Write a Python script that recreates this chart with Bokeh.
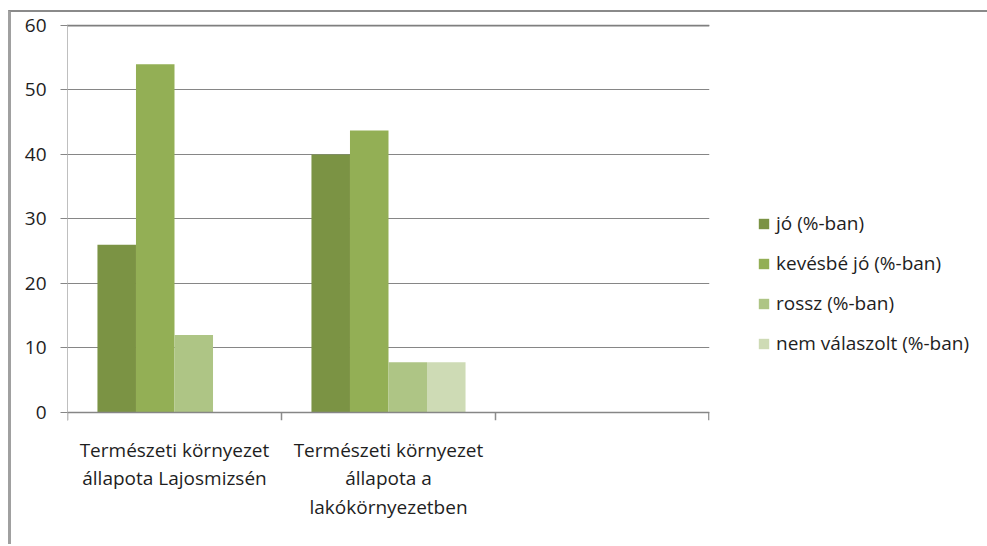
from bokeh.plotting import figure
from bokeh.models import FactorRange, Range1d, FixedTicker, Span, Legend, LegendItem
from bokeh.transform import dodge
from bokeh.embed import file_html
from bokeh.resources import INLINE

categories = [
    "Természeti környezet\nállapota Lajosmizsén",
    "Természeti környezet\nállapota a\nlakókörnyezetben",
    " ",
]
series_names = ["jó (%-ban)", "kevésbé jó (%-ban)", "rossz (%-ban)", "nem válaszolt (%-ban)"]
jo = [26, 40, 0]
kevesbe_jo = [54, 43.7, 0]
rossz = [12, 7.8, 0]
nem_valaszolt = [0, 7.8, 0]
y_ticks = [0, 10, 20, 30, 40, 50, 60]
colors = ["#7b9344", "#93af55", "#aec585", "#cedbb5"]

FONT = "Open Sans"
TEXT = "#1e1e1e"
FS = "19px"
Y0 = -1.24

p = figure(
    x_range=FactorRange(*categories),
    y_range=Range1d(Y0, 60.15),
    frame_width=642, frame_height=396,
    min_border_left=56, min_border_top=12, min_border_right=276, min_border_bottom=124,
    output_backend="svg", toolbar_location=None,
    outline_line_color=None, background_fill_color="white", border_fill_color="white",
)
p.styles = {"border-top": "2px solid #8a8a8a", "border-left": "3px solid #a0a0a0",
            "margin-top": "10px", "margin-left": "8px"}

data = dict(cat=categories, jo=jo, kj=kevesbe_jo, ro=rossz, nv=nem_valaszolt)
cols = ["jo", "kj", "ro", "nv"]
offsets = [-0.27, -0.09, 0.09, 0.27]
items = []
for col, off, color, name in zip(cols, offsets, colors, series_names):
    r = p.vbar(x=dodge("cat", off, range=p.x_range), top=col, bottom=0, width=0.18,
               source=data, fill_color=color, line_color=None)
    items.append(LegendItem(label=name, renderers=[r]))

# category boundary tick marks below the zero line
tick_src = dict(cat=categories, y0=[0] * len(categories), y1=[Y0] * len(categories))
p.segment(x0=dodge("cat", -0.5, range=p.x_range), y0="y0",
          x1=dodge("cat", -0.5, range=p.x_range), y1="y1",
          source=tick_src, line_color="#8c8c8c", line_width=1.5)
end_src = dict(cat=categories[-1:], y0=[0], y1=[Y0])
p.segment(x0=dodge("cat", 0.497, range=p.x_range), y0="y0",
          x1=dodge("cat", 0.497, range=p.x_range), y1="y1",
          source=end_src, line_color="#8c8c8c", line_width=1.5)

p.xgrid.visible = False
p.ygrid.ticker = FixedTicker(ticks=y_ticks)
p.ygrid.grid_line_color = "#868686"
p.ygrid.grid_line_width = 1
p.add_layout(Span(location=60, dimension="width", line_color="#7f7f7f", line_width=2))
p.add_layout(Span(location=0, dimension="width", line_color="#868686", line_width=1.5))

p.yaxis.ticker = FixedTicker(ticks=y_ticks)
p.yaxis.axis_line_color = "#bfbfbf"
p.yaxis.major_tick_line_color = "#868686"
p.yaxis.major_tick_out = 7
p.yaxis.major_tick_in = 0
p.yaxis.minor_tick_line_color = None
p.yaxis.major_label_standoff = 14
p.yaxis.major_label_text_font = FONT
p.yaxis.major_label_text_font_size = FS
p.yaxis.major_label_text_color = TEXT

p.xaxis.axis_line_color = None
p.xaxis.major_tick_line_color = None
p.xaxis.major_tick_out = 0
p.xaxis.major_label_standoff = 16
p.xaxis.major_label_text_font = FONT
p.xaxis.major_label_text_font_size = FS
p.xaxis.major_label_text_color = TEXT
p.xaxis.major_label_text_line_height = 1.1

lg = Legend(items=items, location=(48, 64), orientation="vertical",
            padding=0, margin=0, border_line_color=None, background_fill_alpha=0,
            glyph_width=13, glyph_height=13, label_height=20, label_standoff=6, spacing=14,
            label_text_font=FONT, label_text_font_size=FS, label_text_color=TEXT)
p.add_layout(lg, "right")

open("out.html", "w").write(file_html(p, INLINE))
